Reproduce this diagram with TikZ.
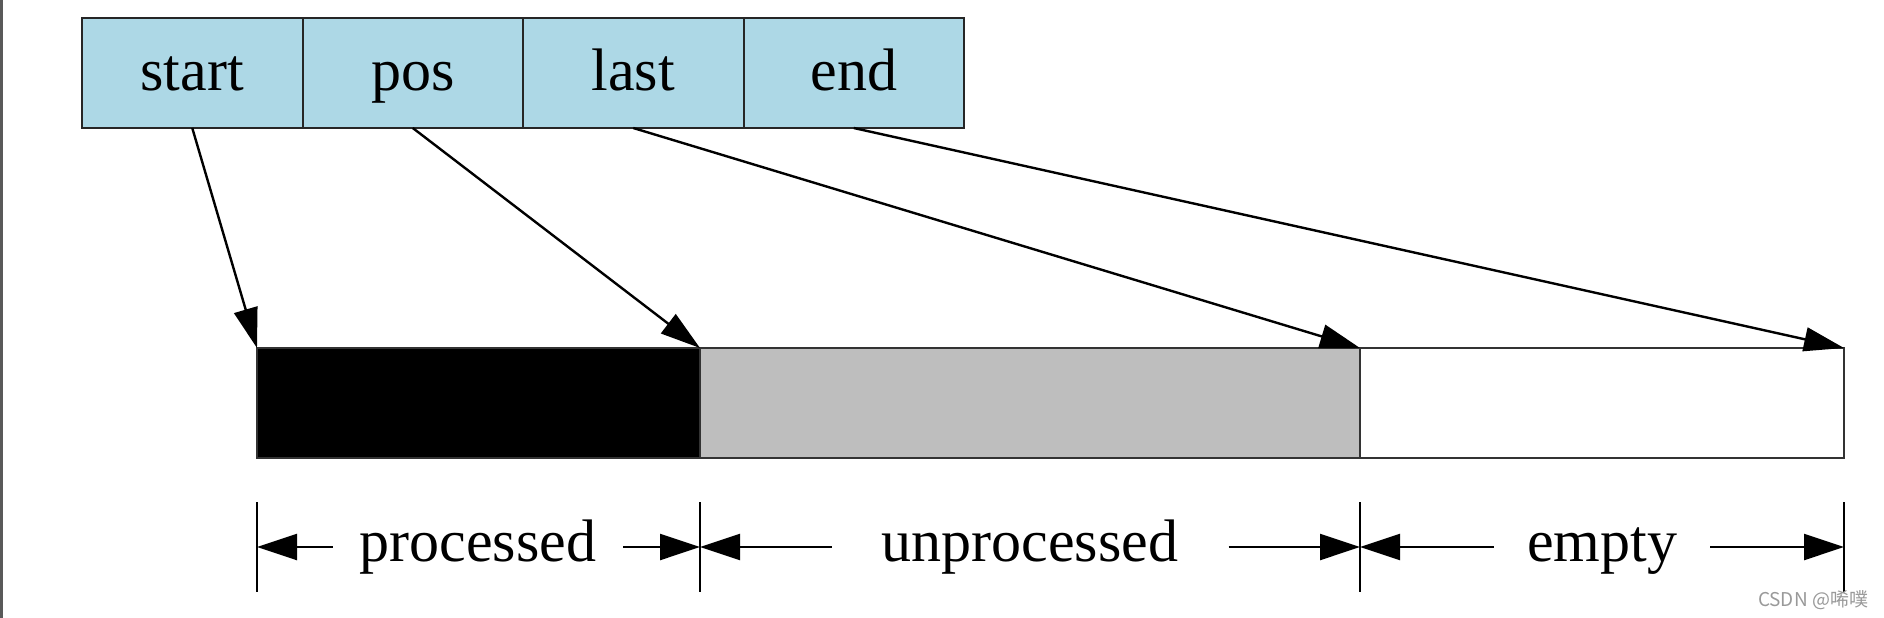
\documentclass[tikz,border=0pt]{standalone}
\usepackage{fontspec}
\setmainfont{Liberation Serif}
\newfontfamily\cjk{Noto Sans CJK SC}
\usetikzlibrary{arrows.meta}
\definecolor{cellblue}{HTML}{ADD8E6}
\definecolor{restgray}{HTML}{BEBEBE}
\tikzset{
  cell/.style = {draw = black!85, fill = cellblue, line width = 2pt, minimum width = 220.5pt, minimum height = 110pt, inner sep = 0pt, outer sep = 0pt, text height = 42pt, text depth = 8pt},
  seg/.style = {draw = black!80, line width = 2pt, minimum height = 110pt, inner sep = 0pt, outer sep = 0pt, anchor = north west},
  ptr/.style = {-{Triangle[length = 40pt, width = 24pt]}, line width = 2.4pt, black},
  dimlabel/.style = {inner ysep = 0pt, text height = 42pt, text depth = 14pt},
  dimline/.style = {-{Triangle[length = 40pt, width = 26pt]}, line width = 2.4pt},
  tick/.style = {line width = 2.8pt}
}
\begin{document}
\begin{tikzpicture}[x = 1pt, y = -1pt, font = \fontsize{60}{72}\selectfont]
\useasboundingbox (0,0) rectangle (1884,618);
\draw[black!65, line width = 3pt] (1.5,0) -- (1.5,618);
% pointer cells
\foreach \name [count = \i] in {start,pos,last,end}
  \node[cell] (c\name) at ({82+220.5*(\i-0.5)},73) {\name};
% buffer
\node[seg, fill = black, minimum width = 443pt] (bproc) at (257,348) {};
\node[seg, fill = restgray, minimum width = 660pt] (bunproc) at (bproc.north east) {};
\node[seg, fill = white, minimum width = 484pt] (bempty) at (bunproc.north east) {};
\draw[ptr] (cstart.south) -- (bproc.north west);
\draw[ptr] (cpos.south) -- (bunproc.north west);
\draw[ptr] (clast.south) -- (bempty.north west);
\draw[ptr] (cend.south) -- (bempty.north east);
% sizes
\foreach \x [count = \i] in {257,700,1360,1844} {
  \coordinate (t\i) at (\x,547);
  \draw[tick] (\x,502) -- (\x,592);
}
\node[dimlabel, inner xsep = 27pt] (lproc) at (478,547) {processed};
\node[dimlabel, inner xsep = 50pt] (lunproc) at (1030,547) {unprocessed};
\node[dimlabel, inner xsep = 33pt] (lempty) at (1602,547) {empty};
\draw[dimline] (lproc) -- (t1);
\draw[dimline] (lproc) -- (t2);
\draw[dimline] (lunproc) -- (t2);
\draw[dimline] (lunproc) -- (t3);
\draw[dimline] (lempty) -- (t3);
\draw[dimline] (lempty) -- (t4);
\node[font = \cjk\fontsize{19}{19}\selectfont, text = black!40] (mark) at (1813,600) {CSDN @唏噗};
\end{tikzpicture}
\end{document}
